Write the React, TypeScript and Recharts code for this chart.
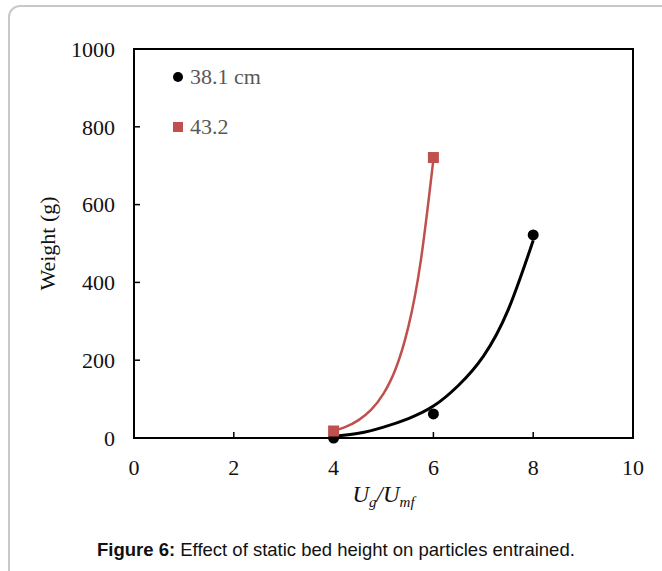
import React from "react";
import {
  ComposedChart, Line, Scatter, XAxis, YAxis, ReferenceArea, Label,
} from "recharts";

const SERIF = "'Liberation Serif', 'Times New Roman', serif";
const RED = "#c0504d";

const xTicks = [0, 2, 4, 6, 8, 10];
const yTicks = [0, 200, 400, 600, 800, 1000];

// measured points
const bed381X = [4, 6, 8];
const bed381Y = [0, 62, 522];
const bed432X = [4, 6];
const bed432Y = [18, 721];

// trend lines
const trend381X = [4, 4.5, 5, 5.5, 6, 6.5, 7, 7.5, 8];
const trend381Y = [4, 12, 28, 50, 82, 135, 210, 330, 508];
const trend432X = [4, 4.25, 4.5, 4.75, 5, 5.25, 5.5, 5.75, 6];
const trend432Y = [18, 29, 46, 72, 114, 180, 287, 458, 716];

const legendItems = [
  { name: "38.1 cm", color: "#000", shape: "circle" },
  { name: "43.2", color: RED, shape: "square" },
];

const pts = (xs: number[], ys: number[]) => xs.map((x, i) => ({ x, y: ys[i] }));

const tickStyle = { fill: "#111", fontSize: 22, fontFamily: SERIF };

export default function App() {
  return (
    <div style={{ position: "fixed", left: 0, top: 0, width: 662, height: 571, overflow: "hidden", background: "#fff" }}>
      {/* figure frame */}
      <div style={{
        position: "absolute", left: 8, top: 5, width: 720, height: 700,
        border: "2px solid #c8c8c8", borderRadius: 12,
      }} />

      <ComposedChart
        width={662}
        height={571}
        margin={{ top: 49, right: 29, bottom: 103, left: 74 }}
        style={{ position: "absolute", left: 0, top: 0 }}
      >
        <XAxis
          type="number"
          dataKey="x"
          domain={[0, 10]}
          ticks={xTicks}
          height={30}
          tick={tickStyle}
          tickSize={-6}
          tickMargin={27}
          axisLine={{ stroke: "#000", strokeWidth: 2 }}
          tickLine={{ stroke: "#000", strokeWidth: 1.5 }}
        >
          <Label
            content={({ viewBox }: any) => (
              <text
                x={viewBox.x + viewBox.width / 2}
                y={viewBox.y + 64}
                textAnchor="middle"
                fontFamily={SERIF}
                fontSize={23}
                fontStyle="italic"
                fill="#111"
              >
                <tspan>U</tspan>
                <tspan dy={5} fontSize={15}>g</tspan>
                <tspan dy={-5}>/U</tspan>
                <tspan dy={5} fontSize={15}>mf</tspan>
              </text>
            )}
          />
        </XAxis>
        <YAxis
          type="number"
          dataKey="y"
          domain={[0, 1000]}
          ticks={yTicks}
          width={60}
          tick={tickStyle}
          tickSize={-6}
          tickMargin={25}
          axisLine={{ stroke: "#000", strokeWidth: 2 }}
          tickLine={{ stroke: "#000", strokeWidth: 1.5 }}
        >
          <Label
            content={({ viewBox }: any) => {
              const cx = viewBox.x - 27;
              const cy = viewBox.y + viewBox.height / 2;
              return (
                <text
                  x={cx}
                  y={cy}
                  transform={`rotate(-90, ${cx}, ${cy})`}
                  textAnchor="middle"
                  dominantBaseline="central"
                  fontFamily={SERIF}
                  fontSize={22}
                  fill="#111"
                >
                  Weight (g)
                </text>
              );
            }}
          />
        </YAxis>

        <ReferenceArea x1={0} x2={10} y1={0} y2={1000} fill="none" stroke="#000" strokeWidth={2} />

        <Line
          data={pts(trend432X, trend432Y)}
          dataKey="y"
          type="natural"
          stroke={RED}
          strokeWidth={2.5}
          dot={false}
          activeDot={false}
          isAnimationActive={false}
        />
        <Line
          data={pts(trend381X, trend381Y)}
          dataKey="y"
          type="natural"
          stroke="#000"
          strokeWidth={3}
          dot={false}
          activeDot={false}
          isAnimationActive={false}
        />
        <Scatter
          data={pts(bed381X, bed381Y)}
          dataKey="y"
          isAnimationActive={false}
          shape={(p: any) => <circle cx={p.cx} cy={p.cy} r={5.5} fill="#000" />}
        />
        <Scatter
          data={pts(bed432X, bed432Y)}
          dataKey="y"
          isAnimationActive={false}
          shape={(p: any) => <rect x={p.cx - 5.5} y={p.cy - 5.5} width={11} height={11} fill={RED} />}
        />
      </ComposedChart>

      {/* legend */}
      <div style={{ position: "absolute", left: 173, top: 62, fontFamily: SERIF, fontSize: 22, color: "#595959" }}>
        {legendItems.map((it, i) => (
          <div key={it.name} style={{ display: "flex", alignItems: "center", height: 30, marginBottom: i === 0 ? 20 : 0 }}>
            <span style={{
              display: "inline-block",
              width: 10,
              height: 10,
              borderRadius: it.shape === "circle" ? "50%" : 0,
              background: it.color,
              marginRight: 7,
            }} />
            <span>{it.name}</span>
          </div>
        ))}
      </div>

      {/* caption */}
      <div style={{
        position: "absolute", left: 97, top: 539, whiteSpace: "nowrap",
        fontFamily: "'Liberation Sans', Arial, sans-serif", fontSize: 18.5, color: "#111", lineHeight: "22px",
      }}>
        <b>Figure 6:</b> Effect of static bed height on particles entrained.
      </div>
    </div>
  );
}
